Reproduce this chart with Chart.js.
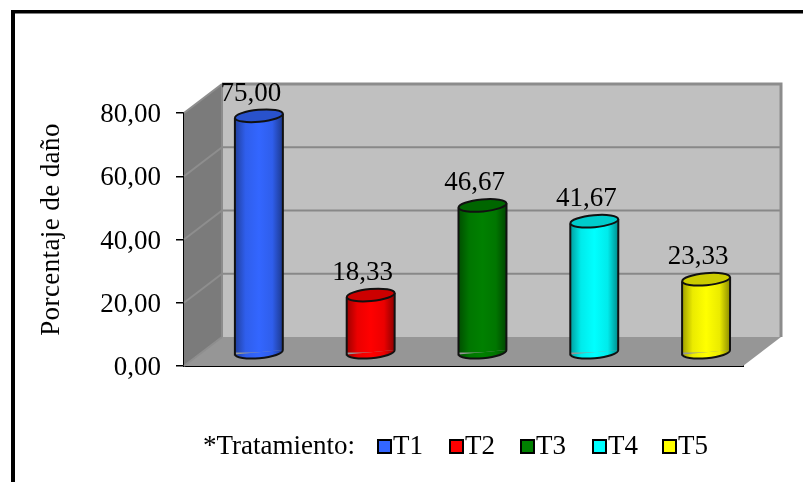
<!DOCTYPE html>
<html lang="es">
<head>
<meta charset="utf-8">
<title>Porcentaje de daño por tratamiento</title>
<script src="https://cdn.jsdelivr.net/npm/chart.js@4"></script>
<style>
  html, body { margin: 0; padding: 0; background: #fff; }
  canvas { display: block; }
</style>
</head>
<body>
<canvas id="chart" width="803" height="482"></canvas>
<script>
// Chart data
const categories = ["T1", "T2", "T3", "T4", "T5"];
const damageValues = [75.00, 18.33, 46.67, 41.67, 23.33];
const seriesColors = ["#3366ff", "#ff0000", "#008000", "#00ffff", "#ffff00"];
const tickValues = [0, 20, 40, 60, 80];
const yAxisTitle = "Porcentaje de daño";
const legendCaption = "*Tratamiento:";
const legendStops = [378, 450, 521, 593, 663];

// Look of the 3D box and the cylinders
const FONT = "Liberation Serif";
const DEPTH_X = 38, DEPTH_Y = 29;
const BAR_SHIFT_X = 19, BAR_SHIFT_Y = 13;
const BAR_WIDTH = 48, CAP_RY = 6, CAP_TILT = -0.09;

const decimal = v => v.toFixed(2).replace(".", ",");

function shade(hex, k) {
  const n = parseInt(hex.slice(1), 16);
  const c = [n >> 16, (n >> 8) & 255, n & 255].map(v => Math.round(v * k));
  return `rgb(${c[0]},${c[1]},${c[2]})`;
}

function sideGradient(ctx, x, color) {
  const half = BAR_WIDTH / 2;
  const g = ctx.createLinearGradient(x - half, 0, x + half, 0);
  g.addColorStop(0, shade(color, 0.62));
  g.addColorStop(0.22, shade(color, 0.92));
  g.addColorStop(0.5, color);
  g.addColorStop(0.78, shade(color, 0.92));
  g.addColorStop(1, shade(color, 0.55));
  return g;
}

// Back wall, side wall, floor and their gridlines
const boxPlugin = {
  id: "box",
  beforeDatasetsDraw(chart) {
    const { ctx, chartArea: a, scales: { y } } = chart;
    const poly = (pts, fill) => {
      ctx.beginPath();
      pts.forEach((p, i) => i ? ctx.lineTo(p[0], p[1]) : ctx.moveTo(p[0], p[1]));
      ctx.closePath();
      ctx.fillStyle = fill;
      ctx.fill();
    };
    const bx = a.left + DEPTH_X, bx2 = a.right + DEPTH_X;
    const by = a.top - DEPTH_Y, by2 = a.bottom - DEPTH_Y;
    poly([[bx, by], [bx2, by], [bx2, by2], [bx, by2]], "#c0c0c0");
    poly([[a.left, a.top], [bx, by], [bx, by2], [a.left, a.bottom]], "#7b7b7b");
    poly([[a.left, a.bottom], [bx, by2], [bx2, by2], [a.right, a.bottom]], "#969696");

    ctx.save();
    ctx.lineWidth = 2;
    y.ticks.forEach(t => {
      const py = y.getPixelForValue(t.value);
      ctx.strokeStyle = "#8e8e8e";
      ctx.beginPath();
      ctx.moveTo(a.left, py);
      ctx.lineTo(bx, py - DEPTH_Y);
      ctx.stroke();
      if (t.value > 0) {
        ctx.strokeStyle = "#888888";
        ctx.beginPath();
        ctx.moveTo(bx, py - DEPTH_Y);
        ctx.lineTo(bx2, py - DEPTH_Y);
        ctx.stroke();
      }
    });
    ctx.strokeStyle = "#8c8c8c";
    ctx.lineWidth = 3;
    ctx.beginPath();
    ctx.moveTo(bx, by);
    ctx.lineTo(bx2, by);
    ctx.lineTo(bx2, by2);
    ctx.stroke();
    ctx.lineWidth = 2;
    ctx.beginPath();
    ctx.moveTo(bx, by);
    ctx.lineTo(bx, by2);
    ctx.stroke();
    ctx.restore();
  }
};

// Turns the flat library bars into cylinders, set back into the box
const cylinderPlugin = {
  id: "cylinder",
  beforeDatasetDraw(chart, args) {
    const { ctx } = chart;
    const half = BAR_WIDTH / 2;
    const lift = half * Math.sin(-CAP_TILT);
    ctx.save();
    ctx.translate(BAR_SHIFT_X, -BAR_SHIFT_Y);
    args.meta.data.forEach((bar, i) => {
      ctx.beginPath();
      ctx.ellipse(bar.x, bar.base, half, CAP_RY, CAP_TILT, 0, Math.PI);
      ctx.closePath();
      ctx.fillStyle = sideGradient(ctx, bar.x, seriesColors[i]);
      ctx.fill();
    });
    ctx.beginPath();
    args.meta.data.forEach(bar => {
      ctx.moveTo(bar.x - half, bar.y + lift);
      ctx.lineTo(bar.x + half, bar.y - lift);
      ctx.lineTo(bar.x + half, bar.base - lift);
      ctx.lineTo(bar.x - half, bar.base + lift);
      ctx.closePath();
    });
    ctx.clip();
  },
  afterDatasetDraw(chart, args) {
    const { ctx } = chart;
    const half = BAR_WIDTH / 2;
    const lift = half * Math.sin(-CAP_TILT);
    ctx.restore();
    ctx.save();
    ctx.translate(BAR_SHIFT_X, -BAR_SHIFT_Y);
    ctx.strokeStyle = "#111";
    ctx.lineWidth = 2;
    args.meta.data.forEach((bar, i) => {
      ctx.beginPath();
      ctx.moveTo(bar.x - half, bar.y + lift);
      ctx.lineTo(bar.x - half, bar.base + lift);
      ctx.ellipse(bar.x, bar.base, half, CAP_RY, CAP_TILT, Math.PI, 0, true);
      ctx.lineTo(bar.x + half, bar.y - lift);
      ctx.stroke();
      ctx.beginPath();
      ctx.ellipse(bar.x, bar.y, half, CAP_RY, CAP_TILT, 0, Math.PI * 2);
      ctx.fillStyle = shade(seriesColors[i], 0.8);
      ctx.fill();
      ctx.stroke();
    });
    ctx.restore();
  }
};

// Value labels, axis title, legend row and the frame lines
const annotationPlugin = {
  id: "annotations",
  afterDraw(chart) {
    const { ctx, scales: { y } } = chart;
    const meta = chart.getDatasetMeta(0);
    ctx.save();
    ctx.fillStyle = "#000";

    ctx.fillRect(11, 10, 792, 3.5);
    ctx.fillRect(11, 10, 4, 472);

    ctx.font = `27px "${FONT}"`;
    ctx.textAlign = "center";
    ctx.textBaseline = "middle";
    damageValues.forEach((v, i) => {
      ctx.fillText(decimal(v), meta.data[i].x + 11, y.getPixelForValue(v) - 35);
    });

    ctx.save();
    ctx.translate(51.5, 229.5);
    ctx.rotate(-Math.PI / 2);
    ctx.letterSpacing = "0.4px";
    ctx.fillText(yAxisTitle, 0, 0);
    ctx.restore();

    ctx.textAlign = "left";
    ctx.fillText(legendCaption, 203, 447);
    categories.forEach((name, i) => {
      const x = legendStops[i];
      ctx.fillStyle = seriesColors[i];
      ctx.fillRect(x, 440, 13, 13);
      ctx.strokeStyle = "#000";
      ctx.lineWidth = 2;
      ctx.strokeRect(x, 440, 13, 13);
      ctx.fillStyle = "#000";
      ctx.fillText(name, x + 15, 447);
    });
    ctx.restore();
  }
};

new Chart(document.getElementById("chart"), {
  type: "bar",
  data: {
    labels: categories,
    datasets: [{
      label: yAxisTitle,
      data: damageValues,
      barThickness: BAR_WIDTH,
      borderWidth: 0,
      backgroundColor: c => {
        if (c.dataIndex === undefined) return seriesColors[0];
        const x = c.chart.scales.x.getPixelForValue(c.dataIndex);
        const color = seriesColors[c.dataIndex];
        return Number.isFinite(x) ? sideGradient(c.chart.ctx, x, color) : color;
      }
    }]
  },
  options: {
    responsive: false,
    animation: false,
    layout: { padding: { left: 0, right: 60, top: 113, bottom: 116 } },
    plugins: { legend: { display: false }, tooltip: { enabled: false } },
    scales: {
      x: {
        grid: { display: false },
        border: { display: true, color: "#000", width: 2 },
        ticks: { display: false },
        afterFit: s => { s.height = 0; }
      },
      y: {
        min: 0,
        max: 80,
        afterFit: s => { s.width = 184; },
        afterBuildTicks: s => { s.ticks = tickValues.map(value => ({ value })); },
        grid: {
          drawOnChartArea: false,
          drawTicks: true,
          tickLength: 8,
          color: "#000",
          lineWidth: 1.5
        },
        border: { display: true, color: "#000", width: 2 },
        ticks: {
          padding: 15,
          labelOffset: 2,
          color: "#000",
          font: { family: FONT, size: 27 },
          callback: v => decimal(v)
        }
      }
    }
  },
  plugins: [boxPlugin, cylinderPlugin, annotationPlugin]
});
</script>
</body>
</html>
